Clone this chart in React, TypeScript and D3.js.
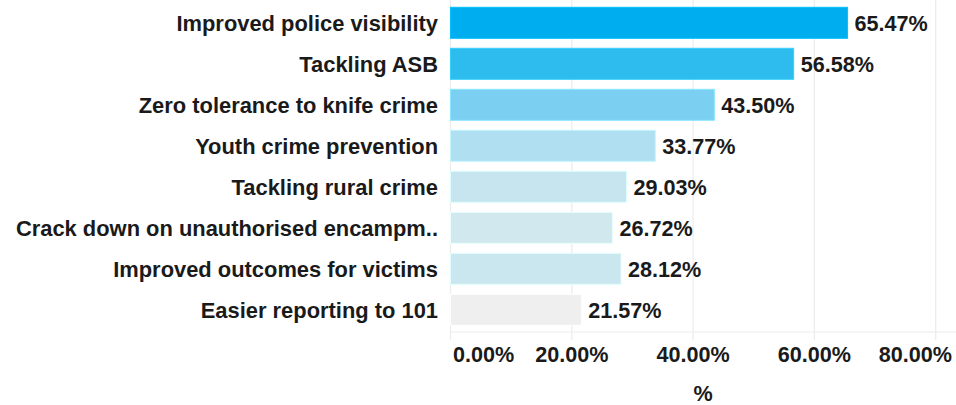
import React from "react";
import * as d3 from "d3";

const categories = [
  "Improved police visibility",
  "Tackling ASB",
  "Zero tolerance to knife crime",
  "Youth crime prevention",
  "Tackling rural crime",
  "Crack down on unauthorised encampm..",
  "Improved outcomes for victims",
  "Easier reporting to 101",
];
const values = [65.47, 56.58, 43.5, 33.77, 29.03, 26.72, 28.12, 21.57];
const barColors = ["#00adee", "#2ebbee", "#7bcff0", "#afdff0", "#c6e5ef", "#d1e8ef", "#cae6ef", "#efefef"];
const ticks = [0, 20, 40, 60, 80];
const axisTitle = "%";

const W = 956;
const H = 405;
const FONT = "'Liberation Sans', Arial, Helvetica, sans-serif";

export default function App() {
  const x = d3.scaleLinear().domain([0, 80]).range([450.5, 935.7]);
  const y = d3
    .scaleBand<string>()
    .domain(categories)
    .range([2.3, 330.3])
    .paddingInner(0.244)
    .paddingOuter(0.122);
  const fmt = (v: number) => v.toFixed(2) + "%";
  const axisY = 332;

  return (
    <svg
      width={W}
      height={H}
      style={{ position: "absolute", left: 0, top: 0, background: "#fff" }}
      fontFamily={FONT}
    >
      {/* gridlines */}
      {ticks.map((t) => (
        <line key={"g" + t} x1={x(t)} x2={x(t)} y1={0} y2={340} stroke="#ececec" strokeWidth={1.2} />
      ))}
      <line x1={x(0)} x2={W} y1={axisY} y2={axisY} stroke="#ececec" strokeWidth={1.2} />
      {/* bars */}
      {categories.map((c, i) => (
        <rect
          key={"b" + c}
          x={x(0)}
          y={y(c)!}
          width={x(values[i]) - x(0)}
          height={y.bandwidth()}
          fill={barColors[i]}
          stroke={d3.color(barColors[i])!.brighter(0.3).formatHex()}
          strokeWidth={1}
        />
      ))}
      {/* category labels */}
      {categories.map((c) => (
        <text
          key={"c" + c}
          x={438}
          y={y(c)! + y.bandwidth() / 2}
          dy="0.36em"
          textAnchor="end"
          fontSize={21.9}
          fontWeight="bold"
          fill="#1a1a1a"
        >
          {c}
        </text>
      ))}
      {/* value labels */}
      {categories.map((c, i) => (
        <text
          key={"v" + c}
          x={x(values[i]) + 7}
          y={y(c)! + y.bandwidth() / 2}
          dy="0.36em"
          textAnchor="start"
          fontSize={21.6}
          fontWeight="bold"
          fill="#1a1a1a"
        >
          {fmt(values[i])}
        </text>
      ))}
      {/* tick labels */}
      {ticks.map((t, i) => {
        const first = i === 0;
        const last = i === ticks.length - 1;
        return (
          <text
            key={"t" + t}
            x={first ? x(t) + 2.5 : last ? W - 4 : x(t)}
            y={362}
            textAnchor={first ? "start" : last ? "end" : "middle"}
            fontSize={21.6}
            fontWeight="bold"
            fill="#1a1a1a"
          >
            {fmt(t)}
          </text>
        );
      })}
      <text x={703} y={401} textAnchor="middle" fontSize={21.6} fontWeight="bold" fill="#1a1a1a">
        {axisTitle}
      </text>
    </svg>
  );
}
